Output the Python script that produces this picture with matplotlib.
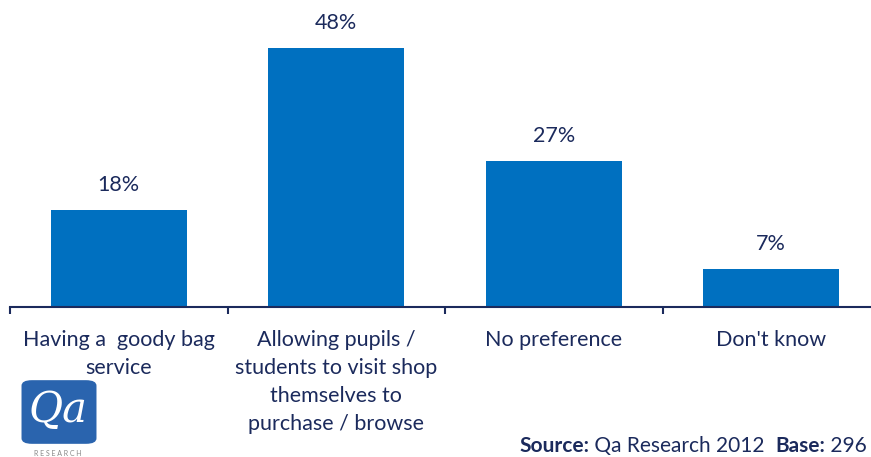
import matplotlib.pyplot as plt
from matplotlib.patches import FancyBboxPatch

categories = [
    "Having a  goody bag\nservice",
    "Allowing pupils /\nstudents to visit shop\nthemselves to\npurchase / browse",
    "No preference",
    "Don't know",
]
values = [18, 48, 27, 7]
value_labels = ["18%", "48%", "27%", "7%"]

BAR = "#0070C0"
NAVY = "#1B2A5C"

plt.rcParams["font.family"] = ["Lato", "DejaVu Sans"]

W, H = 871, 457
fig = plt.figure(figsize=(W / 100, H / 100), dpi=100)
ax = fig.add_axes([10 / W, 1 - 307 / H, 870 / W, 270 / H])

x = list(range(len(categories)))
ax.bar(x, values, width=0.625, color=BAR)
for xi, v, lab in zip(x, values, value_labels):
    ax.annotate(lab, (xi, v), xytext=(0, 25), textcoords="offset pixels",
                ha="center", va="center", fontsize=15.5, color=NAVY)

ax.set_xlim(-0.5, len(categories) - 0.5)
ax.set_ylim(0, 50)
for s in ["top", "right", "left"]:
    ax.spines[s].set_visible(False)
ax.spines["bottom"].set_color(NAVY)
ax.spines["bottom"].set_linewidth(1.5)
ax.set_yticks([])
ax.set_xticks([i - 0.5 for i in range(len(categories) + 1)])
ax.set_xticklabels([])
ax.tick_params(axis="x", direction="out", length=5, width=1.5, color=NAVY)
for xi, cat in zip(x, categories):
    ax.annotate(cat, (xi, 0), xytext=(0, -23), textcoords="offset pixels",
                ha="center", va="top", fontsize=15.5, color=NAVY,
                linespacing=1.5)

# logo
logo = FancyBboxPatch((25 / W, 1 - 442 / H), 68 / W, 60 / H,
                      boxstyle="round,pad=0.004,rounding_size=0.012",
                      transform=fig.transFigure, facecolor="#2A64AE",
                      edgecolor="none")
fig.patches.append(logo)
fig.text(58 / W, 1 - 410 / H, "Qa", ha="center", va="center", fontsize=30,
         color="white", family="DejaVu Serif", style="italic")
fig.text(58 / W, 1 - 453 / H, "R E S E A R C H", ha="center", va="center",
         fontsize=5, color="#888888")

# source line, pieces chained left to right
prev = fig.text(519 / W, 1 - 446 / H, "Source:", ha="left", va="center",
                fontsize=15, color=NAVY, weight="bold")
for piece, wt in [(" Qa Research 2012  ", "normal"), ("Base:", "bold"), (" 296", "normal")]:
    prev = ax.annotate(piece, xy=(1, 0), xycoords=prev, va="bottom",
                       ha="left", fontsize=15, color=NAVY, weight=wt,
                       annotation_clip=False)

fig.savefig("out.png", dpi=100)
